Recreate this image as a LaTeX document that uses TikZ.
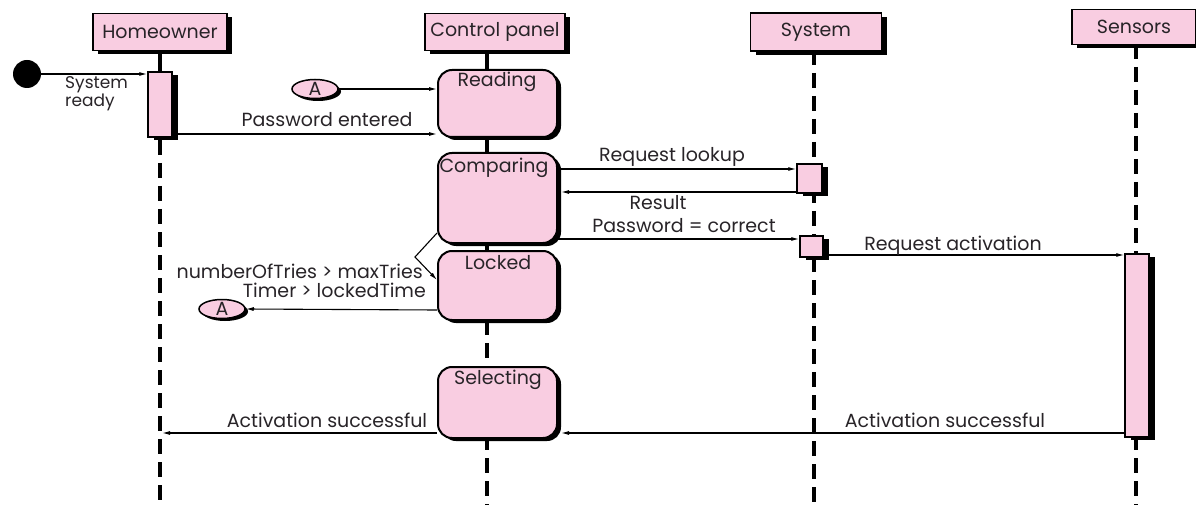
\documentclass[tikz,border=0pt]{standalone}
\usepackage{fontspec}
\setmainfont{Poppins}
\usetikzlibrary{arrows.meta,shapes.geometric,shadows}
\definecolor{pinkfill}{RGB}{249,205,225}
\definecolor{inkgray}{RGB}{40,36,40}
\begin{document}
\begin{tikzpicture}[x=1pt,y=-1pt,
  every node/.style={font=\fontsize{19}{21}\selectfont,text=inkgray},
  headbox/.style={draw=black,line width=1.6pt,fill=pinkfill,inner sep=0pt,
    drop shadow={shadow xshift=5pt,shadow yshift=-4pt,fill=black,opacity=1}},
  statebox/.style={draw=black,line width=2pt,fill=pinkfill,rounded corners=14pt,inner sep=0pt,
    minimum width=119pt,
    drop shadow={shadow xshift=4pt,shadow yshift=-3pt,fill=black,opacity=1}},
  actbar/.style={draw=black,line width=1.5pt,fill=pinkfill,inner sep=0pt,minimum width=24pt,
    drop shadow={shadow xshift=6pt,shadow yshift=-3pt,fill=black,opacity=1}},
  tag/.style={ellipse,draw=black,line width=1.5pt,fill=pinkfill,inner sep=0pt,
    minimum width=46pt,minimum height=19pt,
    drop shadow={shadow xshift=3pt,shadow yshift=-2.5pt,fill=black,opacity=1}},
  lifeline/.style={line width=3.5pt,dash pattern=on 15pt off 8pt},
  stub/.style={line width=3.5pt},
  msg/.style={line width=1.1pt,-{Latex[length=8pt,width=4pt]}},
  lbl/.style={inner sep=0pt},
  small/.style={font=\fontsize{17}{18}\selectfont}
]
\useasboundingbox[fill=white] (0,0) rectangle (1196,505);

% lifeline coordinates
\coordinate (hoTop) at (160,50);
\coordinate (hoBarTop) at (160,72);
\coordinate (hoLow) at (160,140);
\coordinate (hoBot) at (160,505);
\coordinate (cpTop) at (487,50);
\coordinate (cpMid) at (487,260);
\coordinate (cpLow) at (487,320);
\coordinate (cpBot) at (487,505);
\coordinate (syTop) at (814,50);
\coordinate (syBot) at (814,505);
\coordinate (seTop) at (1136,44);
\coordinate (seBot) at (1136,505);

% lifelines
\draw[stub] (hoTop) -- (hoBarTop);
\draw[lifeline] (hoLow) -- (hoBot);
\draw[stub] (cpTop) -- (cpMid);
\draw[lifeline] (cpLow) -- (cpBot);
\draw[lifeline] (syTop) -- (syBot);
\draw[lifeline] (seTop) -- (seBot);

% heads
\node[headbox,minimum width=134pt,minimum height=37pt] (ho) at (160,32) {Homeowner};
\node[headbox,minimum width=140pt,minimum height=37pt] (cp) at (495,32) {Control panel};
\node[headbox,minimum width=131pt,minimum height=38pt] (sy) at (816,32) {System};
\node[headbox,minimum width=124pt,minimum height=35pt] (se) at (1134,27) {Sensors};

% activation bars
\node[actbar,minimum height=65pt] (hb) at (160,104.5) {};
\node[actbar,minimum width=25pt,minimum height=29pt] (sb1) at (809.5,178.5) {};
\node[actbar,minimum width=23pt,minimum height=21pt] (sb2) at (811.5,246.5) {};
\node[actbar,minimum height=183pt] (snb) at (1137,345.5) {};

% states
\node[statebox,minimum height=67pt] (rd) at (497.5,103.5) {};
\node[statebox,minimum height=90pt] (cm) at (497.5,198) {};
\node[statebox,minimum height=69pt] (lk) at (497.5,285.5) {};
\node[statebox,minimum height=71pt] (sl) at (497.5,402.5) {};
\node[lbl,anchor=base] (rdT) at (497,87) {Reading};
\node[lbl,anchor=base] (cmT) at (494,173) {Comparing};
\node[lbl,anchor=base] (lkT) at (498,269) {Locked};
\node[lbl,anchor=base] (slT) at (498,384) {Selecting};

% start and connectors
\node[circle,fill=black,minimum size=28pt,inner sep=0pt] (st) at (27,74) {};
\node[tag] (a1) at (315,89) {A};
\node[tag] (a2) at (222,309) {A};
\coordinate (bend) at (415,257);
\coordinate (hoHit) at (162,433);
\coordinate (slR) at (561,433);
\coordinate (cmR) at (561,192);

\draw[msg] (st.east) -- (hb.west |- st.east);
\draw[msg] (hb.east |- 0,134) -- (rd.west |- 0,134);
\draw[msg] (a1.east) -- (rd.west |- a1.east);
\draw[msg] (cm.east |- 0,169) -- (sb1.west |- 0,169);
\draw[msg] (sb1.west |- 0,192) -- (cmR);
\draw[msg] (cm.east |- 0,239) -- (sb2.west |- 0,239);
\draw[msg] (sb2.east |- 0,255) -- (snb.west |- 0,255);
\draw[msg] (cm.west |- 0,233) -- (bend) -- (lk.west |- 0,280);
\draw[msg] (lk.west |- 0,310) -- (a2.east);
\draw[msg] (sl.west |- 0,433) -- (hoHit);
\draw[msg] (snb.west |- 0,433) -- (slR);

% labels
\node[lbl,small,anchor=base west] (sr1) at (65,89) {System};
\node[lbl,small,anchor=base west] (sr2) at (65,107) {ready};
\node[lbl,anchor=base] (pe) at (327,127) {Password entered};
\node[lbl,anchor=base] (rl) at (672,162) {Request lookup};
\node[lbl,anchor=base] (rs) at (658,210) {Result};
\node[lbl,anchor=base] (pc) at (684,233) {Password = correct};
\node[lbl,anchor=base] (ra) at (953,250) {Request activation};
\node[lbl,anchor=base east] (nt) at (423,278) {numberOfTries > maxTries};
\node[lbl,anchor=base east] (tl) at (426,297) {Timer > lockedTime};
\node[lbl,anchor=base] (as1) at (327,427) {Activation successful};
\node[lbl,anchor=base] (as2) at (945,427) {Activation successful};
\end{tikzpicture}
\end{document}
